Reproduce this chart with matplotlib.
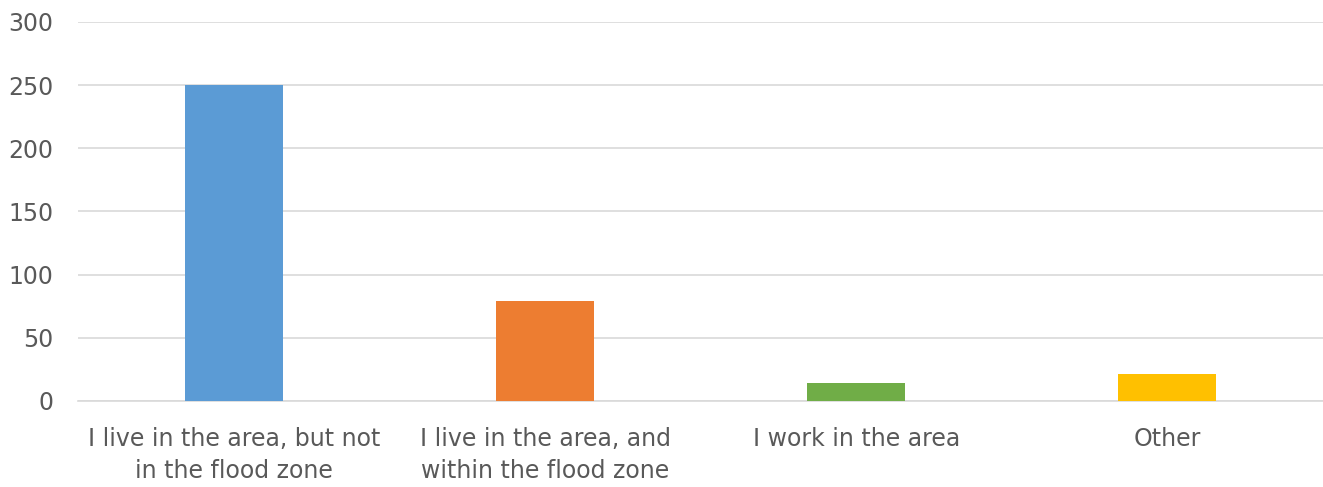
import matplotlib.pyplot as plt

# 数据
categories = ["I live in the area, but not\nin the flood zone",
              "I live in the area, and\nwithin the flood zone",
              "I work in the area",
              "Other"]
values = [250, 79, 14, 21]
colors = ['#5B9BD5', '#ED7D31', '#70AD47', '#FFC000']
y_ticks = [0, 50, 100, 150, 200, 250, 300]

plt.rcParams['font.family'] = ['DejaVu Sans']

fig = plt.figure(figsize=(13.23, 4.87), dpi=100)
ax = fig.add_axes([0.0593, 0.1766, 0.9407, 0.7784])

x = range(len(categories))
ax.bar(x, values, width=0.315, color=colors, zorder=3)

ax.set_xlim(-0.5, len(categories) - 0.5)
ax.set_ylim(0, 300)
ax.set_yticks(y_ticks)
ax.set_xticks(list(x))
ax.set_xticklabels(categories)

ax.grid(axis='y', color='#d9d9d9', linewidth=1.2, zorder=0)
for s in ['top', 'right', 'left']:
    ax.spines[s].set_visible(False)
ax.spines['bottom'].set_color('#d9d9d9')
ax.spines['bottom'].set_linewidth(1.2)

ax.tick_params(axis='both', length=0, labelsize=17, labelcolor='#595959')
ax.tick_params(axis='y', pad=18)
ax.tick_params(axis='x', pad=19)
for lbl in ax.get_xticklabels():
    lbl.set_linespacing(1.4)

plt.savefig('out.png')
